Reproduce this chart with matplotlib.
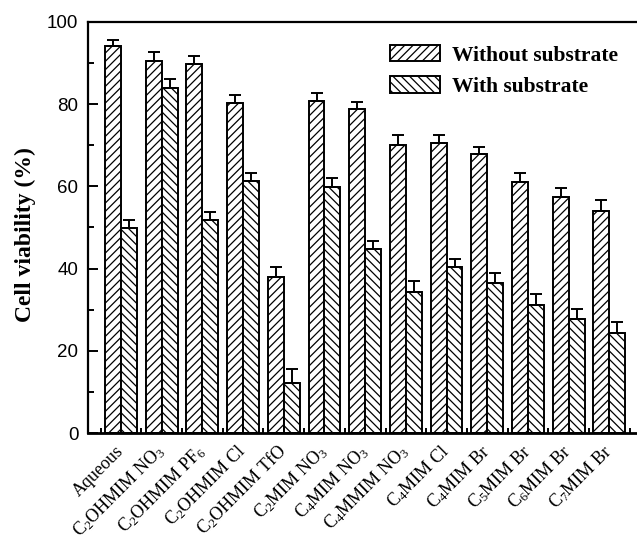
import numpy as np
import matplotlib
matplotlib.use("Agg")
import matplotlib.pyplot as plt
from matplotlib.ticker import MultipleLocator, FixedLocator

# data
labels = ["Aqueous", "C$_2$OHMIM NO$_3$", "C$_2$OHMIM PF$_6$", "C$_2$OHMIM Cl",
          "C$_2$OHMIM TfO", "C$_2$MIM NO$_3$", "C$_4$MIM NO$_3$", "C$_4$MMIM NO$_3$",
          "C$_4$MIM Cl", "C$_4$MIM Br", "C$_5$MIM Br", "C$_6$MIM Br", "C$_7$MIM Br"]
without_sub = [94.2, 90.6, 89.9, 80.2, 37.9, 80.8, 78.8, 70.0, 70.6, 67.8, 61.1, 57.3, 54.1]
without_err = [1.5, 2.1, 1.8, 2.0, 2.4, 2.0, 1.7, 2.6, 2.0, 1.9, 2.2, 2.3, 2.5]
with_sub = [49.8, 83.9, 51.8, 61.2, 12.2, 59.8, 44.8, 34.3, 40.4, 36.6, 31.2, 27.7, 24.4]
with_err = [2.0, 2.2, 2.0, 2.1, 3.3, 2.3, 2.0, 2.8, 1.9, 2.3, 2.6, 2.4, 2.6]

plt.rcParams["hatch.linewidth"] = 0.9
plt.rcParams["mathtext.default"] = "regular"

W, H = 637, 538
fig = plt.figure(figsize=(W / 100, H / 100), dpi=100)

# axes box in pixels (right side runs off the image, as in the reference)
left, top, bottom, right = 88, 22, 433, 642
ax = fig.add_axes([left / W, 1 - bottom / H, (right - left) / W, (bottom - top) / H])

x = np.arange(len(labels))
bw = 0.39
kw = dict(width=bw, color="white", edgecolor="black", linewidth=1.4)
ax.bar(x - bw / 2, without_sub, hatch="////", label="Without substrate", **kw)
ax.bar(x + bw / 2, with_sub, hatch="\\\\\\\\", label="With substrate", **kw)

ekw = dict(fmt="none", ecolor="black", elinewidth=1.4, capsize=4.2, capthick=1.4)
ax.errorbar(x - bw / 2, without_sub, yerr=[np.zeros(len(x)), without_err], **ekw)
ax.errorbar(x + bw / 2, with_sub, yerr=[np.zeros(len(x)), with_err], **ekw)

ax.set_ylim(0, 100)
ax.set_xlim(-0.81, -0.81 + (right - left) / 40.7)

ax.yaxis.set_major_locator(MultipleLocator(20))
ax.yaxis.set_minor_locator(MultipleLocator(10))
ax.tick_params(axis="y", which="major", direction="in", length=7, width=1.4, pad=7)
ax.tick_params(axis="y", which="minor", direction="in", length=4, width=1.4)
for t in ax.get_yticklabels():
    t.set_fontfamily("Liberation Sans")
    t.set_fontsize(13.5)

ax.set_xticks(x)
ax.set_xticklabels(labels, rotation=45, ha="right", va="center", rotation_mode="anchor",
                   fontfamily="Liberation Serif", fontsize=13)
ax.xaxis.set_minor_locator(FixedLocator(np.arange(-0.5, len(labels), 1.0)))
ax.tick_params(axis="x", which="major", length=0, pad=11)
ax.tick_params(axis="x", which="minor", direction="in", length=3.5, width=1.4)

for s in ax.spines.values():
    s.set_linewidth(1.6)
ax.spines["bottom"].set_linewidth(2.0)

ax.set_ylabel("Cell viability (%)", fontfamily="Liberation Serif", fontweight="bold",
              fontsize=17)
ax.yaxis.set_label_coords(-0.093, 0.482)

leg = ax.legend(loc="upper left", bbox_to_anchor=(390 / W, 1 - 45 / H),
                bbox_transform=fig.transFigure, frameon=False, borderpad=0,
                borderaxespad=0, handlelength=2.3, handleheight=0.8,
                handletextpad=0.6, labelspacing=0.48,
                prop=dict(family="Liberation Serif", weight="bold", size=15.5))

fig.savefig("out.png", dpi=100)
